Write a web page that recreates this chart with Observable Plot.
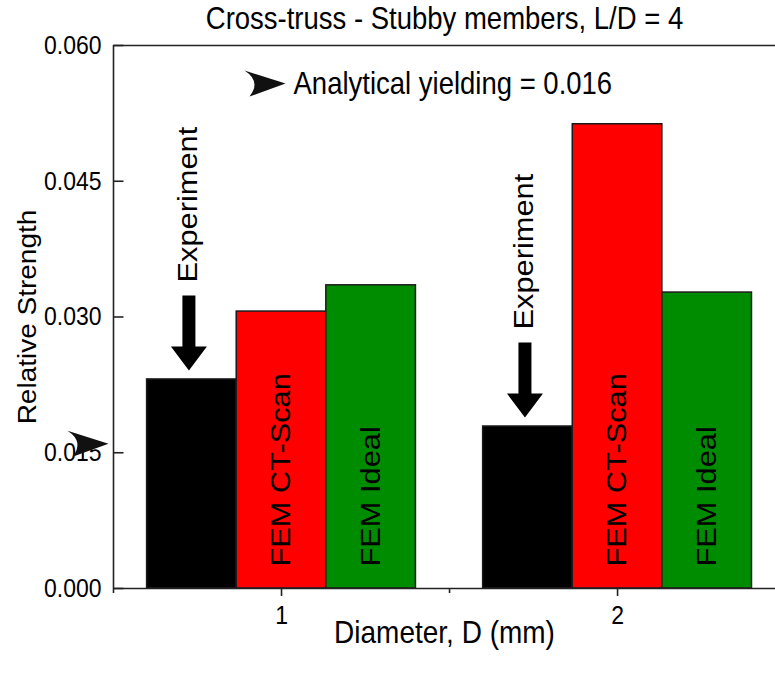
<!DOCTYPE html>
<html>
<head>
<meta charset="utf-8">
<script src="https://cdn.jsdelivr.net/npm/d3@7"></script>
<script src="https://cdn.jsdelivr.net/npm/@observablehq/plot@0.6"></script>
<style>
  body { margin: 0; background: #fff; }
  #chart svg { display: block; }
</style>
</head>
<body>
<div id="chart"></div>
<script>
// Relative strength of cross-truss lattices with stubby members (L/D = 4)
const diameters = [1, 2];                       // strut diameter, mm
const series = ["Experiment", "FEM CT-Scan", "FEM Ideal"];
const experiment = [0.0231, 0.0179];
const femCTScan = [0.0306, 0.0513];
const femIdeal = [0.0335, 0.0327];
const analyticalYield = 0.016;
const seriesColors = ["#000000", "#ff0000", "#008c00"];
const yTicks = [0, 0.015, 0.03, 0.045, 0.06];
const xTicks = [1, 2];
const xMinorTicks = [0.5, 1.5];
const title = "Cross-truss - Stubby members, L/D = 4";
const xLabel = "Diameter, D (mm)";
const yLabel = "Relative Strength";

// Grouped bar layout: three bars side by side around each diameter
const groupWidth = 0.8;
const barWidth = groupWidth / series.length;
const values = [experiment, femCTScan, femIdeal];
const bars = [];
diameters.forEach((d, j) => {
  series.forEach((s, i) => {
    const x1 = d - groupWidth / 2 + i * barWidth;
    bars.push({d, series: s, value: values[i][j], x1, x2: x1 + barWidth, xc: x1 + barWidth / 2});
  });
});
const expBars = bars.filter(b => b.series === "Experiment");
const femBars = bars.filter(b => b.series !== "Experiment");

// Custom glyphs drawn as dot symbols
const downArrow = {
  draw(c) {
    c.moveTo(-6.5, -84); c.lineTo(6.5, -84); c.lineTo(6.5, -33);
    c.lineTo(18, -33); c.lineTo(0, -9); c.lineTo(-18, -33);
    c.lineTo(-6.5, -33); c.closePath();
  }
};
const dart = {
  draw(c) {
    c.moveTo(0, 0); c.lineTo(-41, -13);
    c.quadraticCurveTo(-24, -2, -36, 13); c.closePath();
  }
};
const inwardTick = {
  draw(c) { c.moveTo(0, 0); c.lineTo(10, 0); }
};

const axisColor = "#222";
const font = 27.5;

const chart = Plot.plot({
  width: 775,
  height: 673,
  marginLeft: 113,
  marginRight: 0,
  marginTop: 45,
  marginBottom: 85,
  style: {fontFamily: "'Liberation Sans', Arial, sans-serif", fontSize: "23px", color: "#000", background: "#fff"},
  x: {type: "linear", domain: [0.5, 2.47]},
  y: {domain: [0, 0.06]},
  color: {domain: series, range: seriesColors},
  marks: [
    Plot.rectY(bars, {x1: "x1", x2: "x2", y: "value", fill: "series", stroke: "#1a1a1a", strokeWidth: 1.5}),

    // axes and frame lines
    Plot.ruleY([0], {stroke: axisColor, strokeWidth: 1.6}),
    Plot.ruleY([0.06], {stroke: axisColor, strokeWidth: 1.6}),
    Plot.ruleX([0.5], {stroke: axisColor, strokeWidth: 1.6}),
    Plot.axisY({ticks: yTicks, tickFormat: d3.format(".3f"), tickSize: 0, tickPadding: 12, fontSize: 23, label: null}),
    Plot.dot(yTicks, {y: d => d, frameAnchor: "left", symbol: inwardTick, stroke: axisColor, strokeWidth: 1.6, fill: "none"}),
    Plot.axisX({ticks: xTicks, tickFormat: d3.format("d"), tickSize: 8, tickPadding: 9, fontSize: 23, label: null, stroke: axisColor, strokeWidth: 1.6}),
    Plot.axisX({ticks: xMinorTicks, tickFormat: () => "", tickSize: 5, label: null, stroke: axisColor, strokeWidth: 1.6}),

    // "Experiment" annotations with down arrows above the black bars
    Plot.dot(expBars, {x: "xc", y: "value", symbol: downArrow, fill: "#000", stroke: "none", dx: -3}),
    Plot.text(expBars, {x: "xc", y: "value", text: "series", rotate: -90, textAnchor: "start", lineAnchor: "middle", dy: -97, dx: -4, fontSize: font, fill: "#000"}),

    // Labels inside the FEM bars
    Plot.text(femBars, {x: "xc", text: "series", frameAnchor: "bottom", rotate: -90, textAnchor: "start", lineAnchor: "middle", dy: -22, fontSize: font, fill: "#000"}),

    // Analytical yield marker on the y axis and its key
    Plot.dot([analyticalYield], {y: d => d, frameAnchor: "left", symbol: dart, dx: -5, fill: "#111", stroke: "none"}),
    Plot.dot([analyticalYield], {frameAnchor: "top-left", symbol: dart, dx: 172, dy: 38, fill: "#111", stroke: "none"}),
    Plot.text([analyticalYield], {text: d => `Analytical yielding = ${d.toFixed(3)}`, frameAnchor: "top-left", dx: 180, dy: 39, textAnchor: "start", lineAnchor: "middle", fontSize: font, fill: "#000"}),

    // Titles
    Plot.text([title], {text: d => d, frameAnchor: "top", dy: -26, lineAnchor: "middle", fontSize: font, fill: "#000"}),
    Plot.text([xLabel], {text: d => d, frameAnchor: "bottom", dy: 44, lineAnchor: "middle", fontSize: 28, fill: "#000"}),
    Plot.text([yLabel], {text: d => d, frameAnchor: "left", dx: -86, rotate: -90, textAnchor: "middle", lineAnchor: "middle", fontSize: 25, fill: "#000"})
  ]
});

// Glyphs in this figure are drawn slightly taller than wide: stretch each
// label vertically about its own anchor point.
const stretch = 1.12;
chart.querySelectorAll("text").forEach(t => {
  const tr = t.getAttribute("transform");
  if (tr && tr.startsWith("translate(")) {
    const i = tr.indexOf(")") + 1;
    t.setAttribute("transform", tr.slice(0, i) + ` scale(1,${stretch})` + tr.slice(i));
  } else {
    const x = +t.getAttribute("x") || 0, y = +t.getAttribute("y") || 0;
    t.removeAttribute("x");
    t.removeAttribute("y");
    t.setAttribute("transform", `translate(${x},${y}) scale(1,${stretch})` + (tr ? " " + tr : ""));
  }
});

document.getElementById("chart").appendChild(chart);
</script>
</body>
</html>
